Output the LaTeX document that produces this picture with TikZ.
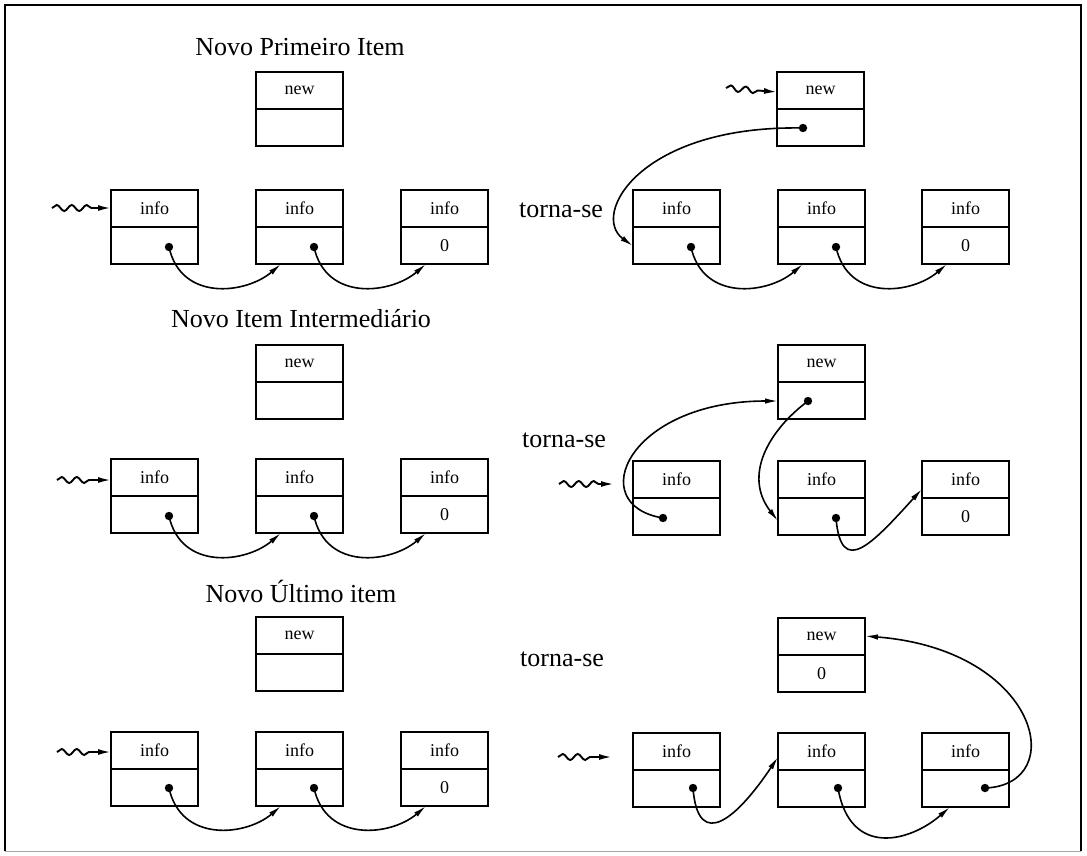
\documentclass[tikz,border=0pt]{standalone}
\usepackage{fontspec}
\setmainfont{Liberation Serif}
\usetikzlibrary{calc,arrows.meta,decorations.pathmorphing}

\tikzset{
  cellframe/.style={draw, line width=2.4pt, minimum width=87pt, minimum height=74pt,
                    inner sep=0pt, outer sep=0pt},
  divider/.style={line width=1.3pt},
  celltext/.style={font=\fontsize{18}{21}\selectfont, inner sep=0pt},
  heading/.style={font=\fontsize{26}{30}\selectfont, anchor=base, inner sep=0pt},
  becomes/.style={font=\fontsize{26}{30}\selectfont, anchor=base west, inner sep=0pt},
  link/.style={line width=1.6pt, -{Latex[length=13pt,width=5.5pt]}},
  headptr/.style={line width=1.9pt, decorate,
                  decoration={snake, amplitude=3pt, segment length=15pt, post length=15pt},
                  -{Latex[length=13pt,width=6pt]}},
}

% a list cell: name, left x, top y, info field, pointer field
\newcommand\listnode[5]{%
  \node[cellframe] (#1) at (#2+43.5,#3+37) {};
  \draw[divider] ($(#1.north west)+(0,37)$) -- ($(#1.north east)+(0,37)$);
  \node[celltext] (#1-top) at ($(#1.north)+(0,18.5)$) {#4};
  \node[celltext] (#1-bot) at ($(#1.north)+(0,55.5)$) {#5};
}
% pointer origin inside the lower field of a cell
\newcommand\ptrdot[3]{%
  \coordinate (#1-p) at ($(#1.north west)+(#2,#3)$);
  \fill (#1-p) circle[radius=4.2pt];
}

\begin{document}
\begin{tikzpicture}[x=1pt, y=-1pt]
\useasboundingbox (0,0) rectangle (1087,855);

% frame
\draw[line width=2.4pt] (5,851) -- (5,5) -- (1081,5) -- (1081,851);
\draw[black!35, line width=0.8pt] (5,851) -- (1081,851);

% ---------------- first item ----------------
\node[heading] (t1) at (300,55) {Novo Primeiro Item};
\listnode{L1n}{256}{72}{new}{}
\listnode{L1a}{111}{190}{info}{}
\listnode{L1b}{256}{190}{info}{}
\listnode{L1c}{401}{190}{info}{0}
\ptrdot{L1a}{58}{57}
\ptrdot{L1b}{58}{57}
\coordinate (h1) at (52,208);
\draw[headptr] (h1) -- ($(L1a.north west)+(0,18)$);
\draw[link] (L1a-p) .. controls +(12,55) and +(-35,30) .. ($(L1b.south west)+(25,0)$);
\draw[link] (L1b-p) .. controls +(12,55) and +(-35,30) .. ($(L1c.south west)+(25,0)$);

\node[becomes] (b1) at (519,217) {torna-se};
\listnode{R1n}{777}{72}{new}{}
\listnode{R1a}{633}{190}{info}{}
\listnode{R1b}{778}{190}{info}{}
\listnode{R1c}{922}{190}{info}{0}
\ptrdot{R1n}{26}{56}
\ptrdot{R1a}{58}{57}
\ptrdot{R1b}{58}{57}
\coordinate (h2) at (726,88);
\draw[headptr] (h2) -- ($(R1n.north west)+(0,20)$);
\draw[link] (R1n-p) .. controls +(-163,-3) and +(-43,-31) .. ($(R1a.north west)+(0,56)$);
\draw[link] (R1a-p) .. controls +(12,55) and +(-35,30) .. ($(R1b.south west)+(25,0)$);
\draw[link] (R1b-p) .. controls +(12,55) and +(-35,30) .. ($(R1c.south west)+(25,0)$);

% ---------------- middle item ----------------
\node[heading] (t2) at (301,327) {Novo Item Intermediário};
\listnode{L2n}{256}{345}{new}{}
\listnode{L2a}{111}{459}{info}{}
\listnode{L2b}{256}{459}{info}{}
\listnode{L2c}{401}{459}{info}{0}
\ptrdot{L2a}{58}{57}
\ptrdot{L2b}{58}{57}
\coordinate (h3) at (57,480);
\draw[headptr] (h3) -- ($(L2a.north west)+(0,21)$);
\draw[link] (L2a-p) .. controls +(12,55) and +(-35,30) .. ($(L2b.south west)+(25,0)$);
\draw[link] (L2b-p) .. controls +(12,55) and +(-35,30) .. ($(L2c.south west)+(25,0)$);

\node[becomes] (b2) at (522,447) {torna-se};
\listnode{R2n}{778}{345}{new}{}
\listnode{R2a}{633}{461}{info}{}
\listnode{R2b}{778}{461}{info}{}
\listnode{R2c}{922}{461}{info}{0}
\ptrdot{R2n}{30}{56}
\ptrdot{R2a}{30}{57}
\ptrdot{R2b}{58}{57}
\coordinate (h4) at (559,484);
\draw[headptr] (h4) -- ($(R2a.north west)+(-19,23)$);
\draw[link] (R2a-p) .. controls +(-80,-13) and +(-150,0) .. ($(R2n.north west)+(0,56)$);
\draw[link] (R2n-p) .. controls +(-40,30) and +(-35,-45) .. ($(R2b.north west)+(0,60)$);
\draw[link] (R2b-p) .. controls +(5,60) and +(-50,55) .. ($(R2c.north west)+(0,28)$);

% ---------------- last item ----------------
\node[heading] (t3) at (301,602) {Novo Último item};
\listnode{L3n}{256}{617}{new}{}
\listnode{L3a}{111}{732}{info}{}
\listnode{L3b}{256}{732}{info}{}
\listnode{L3c}{401}{732}{info}{0}
\ptrdot{L3a}{58}{56}
\ptrdot{L3b}{58}{56}
\coordinate (h5) at (57,752);
\draw[headptr] (h5) -- ($(L3a.north west)+(0,20)$);
\draw[link] (L3a-p) .. controls +(12,55) and +(-35,30) .. ($(L3b.south west)+(25,0)$);
\draw[link] (L3b-p) .. controls +(12,55) and +(-35,30) .. ($(L3c.south west)+(25,0)$);

\node[becomes] (b3) at (520,666) {torna-se};
\listnode{R3n}{778}{618}{new}{0}
\listnode{R3a}{633}{733}{info}{}
\listnode{R3b}{778}{733}{info}{}
\listnode{R3c}{922}{733}{info}{}
\ptrdot{R3a}{60}{55}
\ptrdot{R3b}{60}{55}
\ptrdot{R3c}{63}{55}
\coordinate (h6) at (558,757);
\draw[headptr] (h6) -- ($(R3a.north west)+(-21,24)$);
\draw[link] (R3a-p) .. controls +(5,65) and +(-40,60) .. ($(R3b.north west)+(0,24)$);
\draw[link] (R3b-p) .. controls +(12,70) and +(-40,35) .. ($(R3c.south west)+(28,0)$);
\draw[link] (R3c-p) .. controls +(85,-3) and +(175,14) .. ($(R3n.north east)+(0,18)$);
\end{tikzpicture}
\end{document}
